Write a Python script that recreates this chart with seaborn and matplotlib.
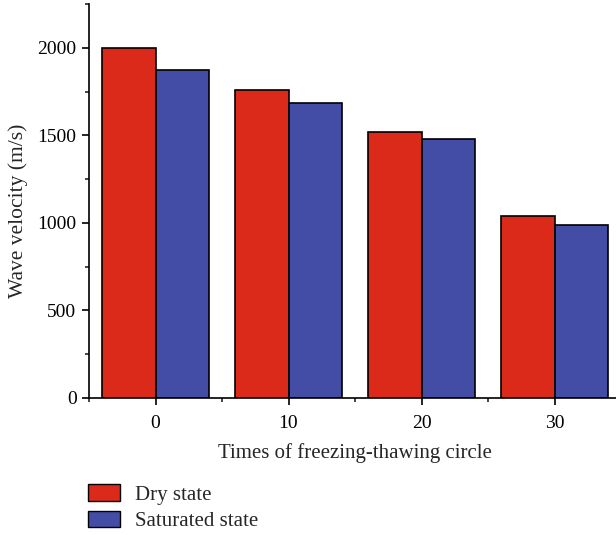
import matplotlib
matplotlib.use("Agg")
import matplotlib.pyplot as plt
from matplotlib.ticker import MultipleLocator, FixedLocator
from matplotlib.patches import Patch
import seaborn as sns
import pandas as pd

cycles = ["0", "10", "20", "30"]
dry = [2000, 1758, 1521, 1037]
saturated = [1873, 1686, 1481, 986]
series_names = ["Dry state", "Saturated state"]
colors = ["#DC2A1A", "#444DA5"]

df = pd.DataFrame({
    "cycle": cycles * 2,
    "velocity": dry + saturated,
    "state": [series_names[0]] * 4 + [series_names[1]] * 4,
})

sns.set_style("ticks")
plt.rcParams["font.family"] = ["Liberation Serif", "DejaVu Serif"]
plt.rcParams["font.size"] = 14

fig = plt.figure(figsize=(6.16, 5.35), dpi=100)
ax = fig.add_axes([89/616, 137/535, 532/616, 394/535])

sns.barplot(data=df, x="cycle", y="velocity", hue="state", order=cycles,
            hue_order=series_names, palette=colors, width=0.8,
            edgecolor="black", linewidth=1.2, saturation=1, ax=ax, legend=False)

ax.set_xlim(-0.5, 3.5)
ax.set_ylim(0, 2250)
ax.yaxis.set_major_locator(MultipleLocator(500))
ax.yaxis.set_minor_locator(MultipleLocator(250))
ax.xaxis.set_minor_locator(FixedLocator([-0.5, 0.5, 1.5, 2.5]))
ax.tick_params(axis="both", which="major", direction="out", length=5, width=1.2, labelsize=14, colors="black")
ax.tick_params(axis="x", which="major", pad=7)
ax.tick_params(axis="y", which="major", pad=4)
ax.tick_params(axis="both", which="minor", direction="out", length=3, width=1.2)
for s in ["top", "right"]:
    ax.spines[s].set_visible(False)
for s in ["left", "bottom"]:
    ax.spines[s].set_linewidth(1.2)
    ax.spines[s].set_color("black")

ax.set_xlabel("Times of freezing-thawing circle", fontsize=15, labelpad=8)
ax.set_ylabel("Wave velocity (m/s)", fontsize=15.5)
ax.yaxis.set_label_coords(-61/532, 0.475)

handles = [Patch(facecolor=c, edgecolor="black", linewidth=1.0, label=n)
           for c, n in zip(colors, series_names)]
fig.legend(handles=handles, loc="upper left", bbox_to_anchor=(88/616, 1 - 484/535),
           frameon=False, fontsize=15, handlelength=1.55, handleheight=0.85,
           labelspacing=0.3, handletextpad=0.7, borderaxespad=0, borderpad=0)

fig.savefig("out.png", dpi=100)
